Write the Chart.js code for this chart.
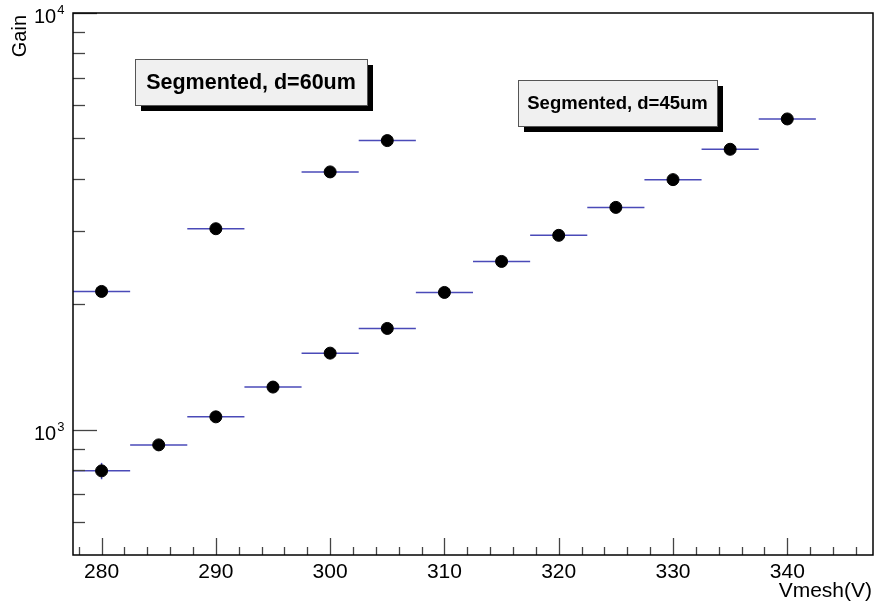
<!DOCTYPE html>
<html>
<head>
<meta charset="utf-8">
<script src="https://cdn.jsdelivr.net/npm/chart.js@4.4.0/dist/chart.umd.min.js"></script>
<style>
  html, body { margin: 0; padding: 0; background: #fff; }
  canvas { display: block; }
</style>
</head>
<body>
<canvas id="gainChart" width="875" height="605"></canvas>
<script>
// data
const vmesh60 = [280, 290, 300, 305];
const gain60 = [2146, 3035, 4155, 4940];
const vmesh45 = [280, 285, 290, 295, 300, 305, 310, 315, 320, 325, 330, 335, 340];
const gain45 = [796, 919, 1073, 1265, 1526, 1749, 2134, 2533, 2926, 3415, 3981, 4708, 5568];
const gainErr45 = [36, 0, 0, 0, 0, 0, 0, 0, 0, 0, 0, 0, 0];
const vmeshErr = 2.5;

const xMajorTicks = [280, 290, 300, 310, 320, 330, 340];
const xMinorTicks = [];
for (let v = 278; v <= 346; v += 2) {
  if (v % 10 !== 0) xMinorTicks.push(v);
}
const yMajorTicks = [1000, 10000];
const yMajorLabels = ['3', '4'];
const yMinorTicks = [600, 700, 800, 900, 2000, 3000, 4000, 5000, 6000, 7000, 8000, 9000];

const labels = [
  { text: 'Segmented, d=60um', x: 135, y: 59, w: 232, h: 46, font: 'bold 21.5px "Liberation Sans", Arial, sans-serif' },
  { text: 'Segmented, d=45um', x: 518, y: 80, w: 199, h: 46, font: 'bold 18.5px "Liberation Sans", Arial, sans-serif' }
];

const font = '"Liberation Sans", Arial, sans-serif';

function toPoints(xs, ys) {
  return xs.map((x, i) => ({ x: x, y: ys[i] }));
}

// horizontal (and a few vertical) error bars, drawn before the dots
const errorBars = {
  id: 'errorBars',
  beforeDatasetsDraw(chart) {
    const ctx = chart.ctx;
    const xs = chart.scales.x, ys = chart.scales.y;
    ctx.save();
    ctx.strokeStyle = '#4a4ab8';
    ctx.lineWidth = 1.5;
    chart.data.datasets.forEach(ds => {
      ds.data.forEach((p, i) => {
        const py = ys.getPixelForValue(p.y);
        ctx.beginPath();
        ctx.moveTo(xs.getPixelForValue(p.x - vmeshErr), py);
        ctx.lineTo(xs.getPixelForValue(p.x + vmeshErr), py);
        ctx.stroke();
        const ey = ds.yErr ? ds.yErr[i] : 0;
        if (ey > 0) {
          const px = xs.getPixelForValue(p.x);
          ctx.beginPath();
          ctx.moveTo(px, ys.getPixelForValue(p.y - ey));
          ctx.lineTo(px, ys.getPixelForValue(p.y + ey));
          ctx.stroke();
        }
      });
    });
    ctx.restore();
  }
};

// ROOT style frame, inside ticks, labels and text boxes
const rootFrame = {
  id: 'rootFrame',
  afterDraw(chart) {
    const ctx = chart.ctx;
    const a = chart.chartArea;
    const xs = chart.scales.x, ys = chart.scales.y;
    ctx.save();

    ctx.strokeStyle = '#444';
    ctx.lineWidth = 1.3;
    xMajorTicks.concat(xMinorTicks).forEach(v => {
      const len = xMajorTicks.includes(v) ? 17 : 8;
      const px = Math.round(xs.getPixelForValue(v)) + 0.5;
      ctx.beginPath();
      ctx.moveTo(px, a.bottom);
      ctx.lineTo(px, a.bottom - len);
      ctx.stroke();
    });
    yMajorTicks.concat(yMinorTicks).forEach(v => {
      const len = yMajorTicks.includes(v) ? 24 : 12;
      const py = Math.round(ys.getPixelForValue(v)) + 0.5;
      ctx.beginPath();
      ctx.moveTo(a.left, py);
      ctx.lineTo(a.left + len, py);
      ctx.stroke();
    });

    ctx.strokeStyle = '#000';
    ctx.lineWidth = 1.5;
    ctx.strokeRect(a.left, a.top, a.right - a.left, a.bottom - a.top);

    ctx.fillStyle = '#000';
    ctx.font = '21px ' + font;
    ctx.textAlign = 'center';
    ctx.textBaseline = 'alphabetic';
    xMajorTicks.forEach(v => {
      ctx.fillText(String(v), xs.getPixelForValue(v), a.bottom + 23);
    });

    ctx.textAlign = 'right';
    ctx.fillText('Vmesh(V)', 872, 597);

    yMajorTicks.forEach((v, i) => {
      const py = ys.getPixelForValue(v);
      ctx.font = '20px ' + font;
      ctx.textAlign = 'left';
      ctx.fillText('10', 34, py + 10);
      const w = ctx.measureText('10').width;
      ctx.font = '13px ' + font;
      ctx.fillText(yMajorLabels[i], 34 + w + 1, py + 1);
    });

    ctx.save();
    ctx.translate(26, 15);
    ctx.rotate(-Math.PI / 2);
    ctx.font = '20px ' + font;
    ctx.textAlign = 'right';
    ctx.fillText('Gain', 0, 0);
    ctx.restore();

    labels.forEach(l => {
      ctx.fillStyle = '#000';
      ctx.fillRect(l.x + 6, l.y + 6, l.w, l.h);
      ctx.fillStyle = '#f0f0f0';
      ctx.fillRect(l.x, l.y, l.w, l.h);
      ctx.strokeStyle = '#555';
      ctx.lineWidth = 1;
      ctx.strokeRect(l.x + 0.5, l.y + 0.5, l.w, l.h);
      ctx.fillStyle = '#000';
      ctx.font = l.font;
      ctx.textAlign = 'center';
      ctx.textBaseline = 'middle';
      ctx.fillText(l.text, l.x + l.w / 2, l.y + l.h / 2 + 1);
    });

    ctx.restore();
  }
};

const ctx = document.getElementById('gainChart').getContext('2d');
new Chart(ctx, {
  type: 'scatter',
  data: {
    datasets: [{
      label: 'Segmented, d=60um',
      data: toPoints(vmesh60, gain60),
      backgroundColor: '#000',
      borderColor: '#000',
      pointRadius: 6
    }, {
      label: 'Segmented, d=45um',
      data: toPoints(vmesh45, gain45),
      yErr: gainErr45,
      backgroundColor: '#000',
      borderColor: '#000',
      pointRadius: 6
    }]
  },
  options: {
    responsive: false,
    animation: false,
    devicePixelRatio: 1,
    layout: { autoPadding: false, padding: { left: 73, top: 13, right: 2, bottom: 50 } },
    plugins: {
      legend: { display: false },
      tooltip: { enabled: false }
    },
    scales: {
      x: { type: 'linear', min: 277.5, max: 347.5, display: false },
      y: { type: 'logarithmic', min: 500, max: 10000, display: false }
    }
  },
  plugins: [errorBars, rootFrame]
});
</script>
</body>
</html>
